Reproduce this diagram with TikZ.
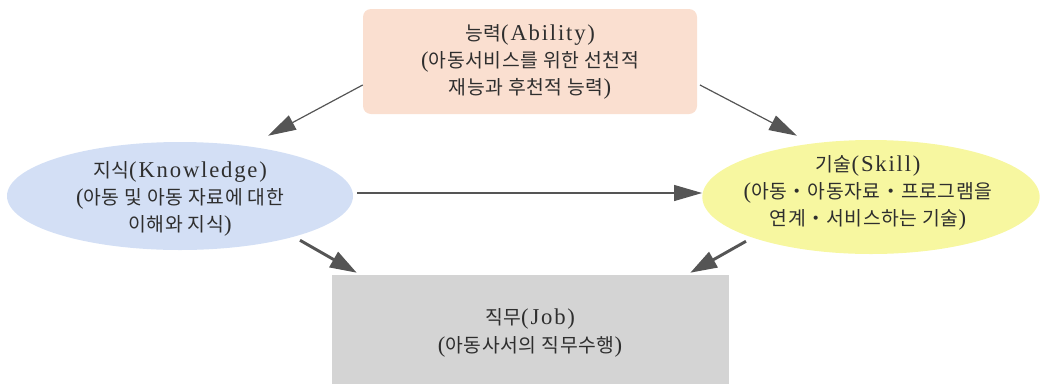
\documentclass[tikz,border=0pt]{standalone}
\usepackage{fontspec}
\setmainfont{Liberation Serif}[LetterSpace=8]
\newfontfamily\cjk{Noto Sans CJK KR}[LetterSpace=3]
\usetikzlibrary{arrows.meta,shapes.geometric}
\definecolor{abfill}{HTML}{FADFD0}
\definecolor{knfill}{HTML}{D3DFF5}
\definecolor{skfill}{HTML}{F7F7A0}
\definecolor{jbfill}{HTML}{D4D4D4}
\definecolor{arr}{HTML}{555555}
\newcommand{\kr}[1]{{\cjk\fontsize{14.5}{20.5}\selectfont #1}}
\tikzset{
  txt/.style={align=center,font=\fontsize{17}{20.5}\selectfont,text=black!82},
  thinarr/.style={draw=arr,line width=0.9pt,-{Triangle[length=21pt,width=12pt]}},
  thickarr/.style={draw=arr,line width=2.2pt,-{Triangle[length=20pt,width=13pt]}},
}
\begin{document}
\begin{tikzpicture}[x=0.75pt,y=-0.75pt]
\useasboundingbox (0,0) rectangle (1046,383);
\node[rectangle,rounded corners=6pt,fill=abfill,minimum width=250.5pt,minimum height=78.75pt,inner sep=0pt] (ab) at (530,61.5) {};
\node[txt] (abt) at (530,62) {\kr{능력}(Ability)\\(\kr{아동서비스를 위한 선천적}\\\kr{재능과 후천적 능력})};
\node[ellipse,fill=knfill,minimum width=259.5pt,minimum height=81pt,inner sep=0pt] (kn) at (180,196) {};
\node[txt] (knt) at (180,199) {\kr{지식}(Knowledge)\\(\kr{아동 및 아동 자료에 대한}\\\kr{이해와 지식})};
\node[ellipse,fill=skfill,minimum width=253pt,minimum height=85.5pt,inner sep=0pt] (sk) at (871,197) {};
\node[txt] (skt) at (868,193) {\kr{기술}(Skill)\\(\kr{아동・아동자료・프로그램을}\\\kr{연계・서비스하는 기술})};
\node[rectangle,fill=jbfill,minimum width=297.75pt,minimum height=82.5pt,inner sep=0pt] (jb) at (530.5,330) {};
\node[txt] (jbt) at (530,333) {\kr{직무}(Job)\\(\kr{아동사서의 직무수행})};
\draw[thinarr] ([yshift=-17.6pt]ab.west) -- ([xshift=66pt,yshift=4.5pt]kn.north);
\draw[thinarr] ([xshift=2pt,yshift=-17.6pt]ab.east) -- ([xshift=-55.5pt,yshift=3pt]sk.north);
\draw[thinarr] ([xshift=3pt,yshift=2.25pt]kn.east) -- ([yshift=3pt]sk.west);
\draw[thickarr] ([xshift=90pt,yshift=7.5pt]kn.south) -- ([xshift=18.75pt,yshift=1.5pt]jb.north west);
\draw[thickarr] ([xshift=-93.75pt,yshift=9.75pt]sk.south) -- ([xshift=-29.25pt,yshift=1.5pt]jb.north east);
\end{tikzpicture}
\end{document}
